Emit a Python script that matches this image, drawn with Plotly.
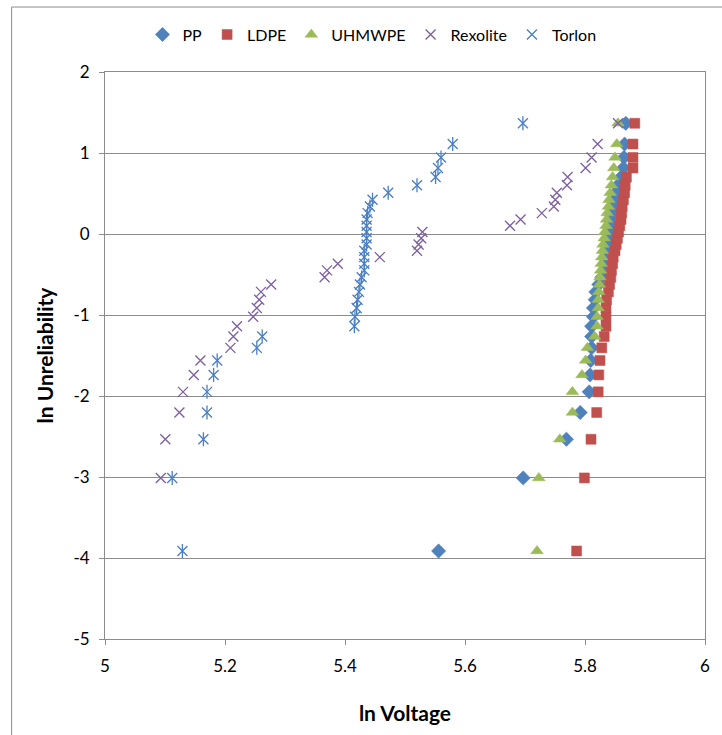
import plotly.graph_objects as go

# Weibull plotting positions (median ranks, n = 35), ln(-ln(1 - F))
ln_unrel = [-3.9134, -3.0116, -2.5341, -2.2037, -1.9488, -1.7398, -1.5615, -1.4054,
            -1.2657, -1.1388, -1.0219, -0.9132, -0.8112, -0.7146, -0.6226, -0.5344,
            -0.4492, -0.3665, -0.2859, -0.2069, -0.1292, -0.0520, 0.0248, 0.1017,
            0.1793, 0.2582, 0.3389, 0.4223, 0.5096, 0.6022, 0.7027, 0.8146,
            0.9453, 1.1106, 1.3669]

# ln(breakdown voltage) per material, ordered by rank
pp = [5.556, 5.697, 5.769, 5.792, 5.807, 5.8085, 5.8096, 5.811, 5.811, 5.811,
      5.814, 5.814, 5.817, 5.818, 5.823, 5.828, 5.832, 5.835, 5.838, 5.839,
      5.840, 5.841, 5.842, 5.843, 5.844, 5.845, 5.847, 5.849, 5.851, 5.855,
      5.860, 5.864, 5.865, 5.866, 5.868]
ldpe = [5.786, 5.799, 5.810, 5.8195, 5.822, 5.823, 5.825, 5.828, 5.832, 5.835,
        5.835, 5.835, 5.836, 5.839, 5.841, 5.843, 5.844, 5.846, 5.847, 5.850,
        5.852, 5.854, 5.856, 5.858, 5.860, 5.861, 5.862, 5.864, 5.866, 5.867,
        5.869, 5.880, 5.880, 5.880, 5.883]
uhmwpe = [5.720, 5.723, 5.758, 5.779, 5.779, 5.795, 5.801, 5.804, 5.816, 5.820,
          5.820, 5.822, 5.822, 5.823, 5.824, 5.825, 5.826, 5.827, 5.828, 5.829,
          5.830, 5.832, 5.833, 5.835, 5.836, 5.837, 5.839, 5.840, 5.842, 5.844,
          5.846, 5.848, 5.850, 5.853, 5.855]
# Rexolite: lowest rank falls below ln V = 5, ranks 2..35 shown
rexolite = [5.093, 5.1005, 5.124, 5.130, 5.148, 5.159, 5.209, 5.214, 5.220,
            5.247, 5.253, 5.257, 5.260, 5.277, 5.366, 5.370, 5.388, 5.458, 5.520,
            5.5226, 5.527, 5.529, 5.675, 5.6926, 5.728, 5.748, 5.7505, 5.753,
            5.770, 5.771, 5.801, 5.811, 5.821, 5.855]
torlon = [5.129, 5.112, 5.164, 5.170, 5.170, 5.181, 5.187, 5.253, 5.262, 5.4156,
          5.4166, 5.4194, 5.4210, 5.4233, 5.4249, 5.4277, 5.4321, 5.4321, 5.4321,
          5.4321, 5.4360, 5.4360, 5.4360, 5.4360, 5.4360, 5.4377, 5.4415, 5.4459,
          5.472, 5.520, 5.551, 5.555, 5.560, 5.5795, 5.6965]

x_ticks = [5, 5.2, 5.4, 5.6, 5.8, 6]
x_tick_text = ["5", "5.2", "5.4", "5.6", "5.8", "6"]
y_ticks = [-5, -4, -3, -2, -1, 0, 1, 2]
y_tick_text = ["-5", "-4", "-3", "-2", "-1", "0", "1", "2"]

FONT = "Lato, 'Open Sans', sans-serif"
GRID = "#8c8c8c"
C_PP, C_LDPE, C_UHM = "#4F81BD", "#C0504D", "#9BBB59"
C_REX, C_TOR = "#7D5FA0", "#4A7EC4"

fig = go.Figure()

fig.add_trace(go.Scatter(
    x=pp, y=ln_unrel, mode="markers", name="PP",
    marker=dict(symbol="diamond", size=11, color=C_PP,
                line=dict(width=0.5, color=C_PP))))
fig.add_trace(go.Scatter(
    x=ldpe, y=ln_unrel, mode="markers", name="LDPE",
    marker=dict(symbol="square", size=10, color=C_LDPE,
                line=dict(width=0.5, color=C_LDPE))))
fig.add_trace(go.Scatter(
    x=uhmwpe, y=ln_unrel, mode="markers", name="UHMWPE",
    marker=dict(symbol="triangle-up", size=11, color=C_UHM,
                line=dict(width=0.5, color=C_UHM))))
fig.add_trace(go.Scatter(
    x=rexolite, y=ln_unrel[1:], mode="markers", name="Rexolite",
    marker=dict(symbol="x-thin-open", size=10, color=C_REX,
                line=dict(width=1.3, color=C_REX))))
# Torlon star marker: a cross with a vertical stroke
fig.add_trace(go.Scatter(
    x=torlon, y=ln_unrel, mode="markers", name="Torlon", legendgroup="torlon",
    marker=dict(symbol="x-thin-open", size=10, color=C_TOR,
                line=dict(width=1.3, color=C_TOR))))
fig.add_trace(go.Scatter(
    x=torlon, y=ln_unrel, mode="markers", name="Torlon", legendgroup="torlon",
    showlegend=False, hoverinfo="skip",
    marker=dict(symbol="line-ns-open", size=10, color=C_TOR,
                line=dict(width=1.3, color=C_TOR))))

fig.update_layout(
    width=722, height=735,
    margin=dict(l=105, r=13, t=72, b=96),
    paper_bgcolor="white", plot_bgcolor="white",
    font=dict(family=FONT, size=16, color="#000000"),
    showlegend=True,
    legend=dict(orientation="h", x=0.445, xanchor="center", y=1.066,
                yanchor="middle", font=dict(family=FONT, size=16),
                itemwidth=30, bgcolor="rgba(0,0,0,0)"),
    xaxis=dict(
        range=[5, 6], tickvals=x_ticks, ticktext=x_tick_text,
        showgrid=False, zeroline=False,
        showline=True, linecolor=GRID, linewidth=1, mirror=True,
        ticks="outside", ticklen=5, tickcolor=GRID, ticklabelstandoff=7,
        tickfont=dict(family=FONT, size=17),
        title=dict(text="<b>ln Voltage</b>", font=dict(family=FONT, size=21),
                   standoff=30)),
    yaxis=dict(
        range=[-5, 2], tickvals=y_ticks, ticktext=y_tick_text,
        showgrid=True, gridcolor=GRID, gridwidth=1, zeroline=False,
        showline=True, linecolor=GRID, linewidth=1, mirror=True,
        ticks="outside", ticklen=5, tickcolor=GRID, ticklabelstandoff=6,
        tickfont=dict(family=FONT, size=17),
        title=dict(text="<b>ln Unreliability</b>", font=dict(family=FONT, size=21),
                   standoff=14)),
    shapes=[dict(type="rect", xref="paper", yref="paper",
                 x0=-0.1556, x1=1.2, y0=-0.3, y1=1.1146,
                 line=dict(color=GRID, width=1), layer="below")],
)

fig.write_html("out.html")
